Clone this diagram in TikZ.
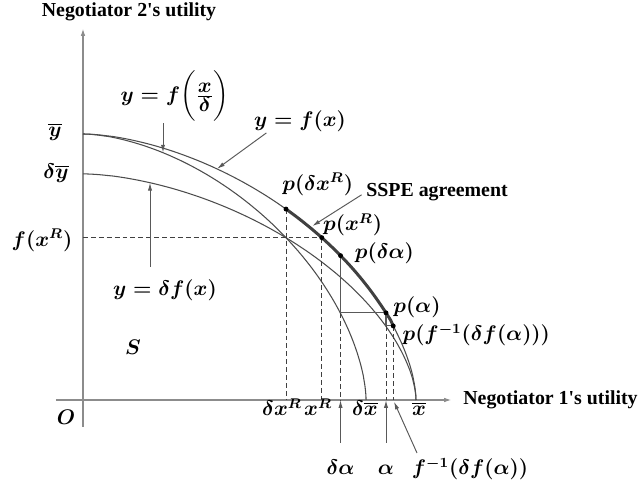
\documentclass[tikz,border=0pt]{standalone}
\usepackage{amsmath}
\usepackage{fontspec}
\newfontfamily\axisfont{Liberation Serif}
\usetikzlibrary{positioning,arrows.meta,calc}

\tikzset{
  axis/.style={draw=black!45, line width=1.1pt, -{Latex[length=4.5pt,width=2.6pt]}},
  curve/.style={draw=black!70, line width=0.6pt},
  agree/.style={draw=black!75, line width=1.7pt},
  guide/.style={draw=black!75, line width=0.5pt, dash pattern=on 2.8pt off 1.7pt},
  stair/.style={draw=black!65, line width=0.6pt},
  note/.style={draw=black!65, line width=0.55pt, -{Latex[length=4.5pt,width=2.4pt]}},
  pdot/.style={circle, fill=black, inner sep=0pt, minimum size=2.8pt},
  lab/.style={inner sep=0pt, font=\fontsize{12}{14}\selectfont\boldmath},
  axtitle/.style={inner sep=0pt, font=\fontsize{11.3}{13}\selectfont\axisfont\bfseries},
}

\begin{document}
\begin{tikzpicture}[x=0.02cm, y=0.02cm,
    declare function={fo(\x)=266*(1-(\x/333)^1.7)^(1/1.7);
                      fi(\y)=333*(1-(\y/266)^1.7)^(1/1.7);}]
\useasboundingbox (-83,-89) rectangle (559,400);

    % axes
    \coordinate (xs) at (-27,0);
    \coordinate (xe) at (369,0);
    \coordinate (ys) at (0,-27);
    \coordinate (ye) at (0,372);
    \draw[axis] (xs) -- (xe);
    \draw[axis] (ys) -- (ye);

    \coordinate (ybar) at (0,266);
    \coordinate (dybar) at (0,226.1);
    \coordinate (xbar) at (333,0);
    \coordinate (dxbar) at (283.05,0);

    % frontiers
    \draw[curve] (xbar) -- plot[domain=0.3:89.7, samples=90, variable=\t]
        ({333*cos(\t)^(2/1.7)}, {266*sin(\t)^(2/1.7)}) -- (ybar);
    \draw[curve] (dxbar) -- plot[domain=0.3:89.7, samples=90, variable=\t]
        ({283.05*cos(\t)^(2/1.7)}, {266*sin(\t)^(2/1.7)}) -- (ybar);
    \draw[curve] (xbar) -- plot[domain=0.3:89.7, samples=90, variable=\t]
        ({333*cos(\t)^(2/1.7)}, {226.1*sin(\t)^(2/1.7)}) -- (dybar);

    % points on the frontier
    \coordinate (pdxR) at (202.98,{fo(202.98)});
    \coordinate (pxR) at (238.8,{fo(238.8)});
    \coordinate (yfxR) at (0,{fo(238.8)});
    \coordinate (pdalpha) at (257.55,{fo(257.55)});
    \coordinate (palpha) at (303,{fo(303)});
    \coordinate (cornA) at (257.55,{fo(303)});
    \coordinate (cornB) at (303,{0.85*fo(303)});
    \coordinate (pfinv) at ({fi(0.85*fo(303))},{0.85*fo(303)});

    \coordinate (xdxR) at (202.98,0);
    \coordinate (xxR) at (238.8,0);
    \coordinate (xdalpha) at (257.55,0);
    \coordinate (xalpha) at (303,0);
    \coordinate (xfinv) at ({fi(0.85*fo(303))},0);

    \draw[agree] plot[domain=202.98:310.4, samples=40] (\x,{fo(\x)});

    \draw[guide] (yfxR) -- (pxR);
    \draw[guide] (pdxR) -- (xdxR);
    \draw[guide] (pxR) -- (xxR);
    \draw[guide] (cornA) -- (xdalpha);
    \draw[guide] (cornB) -- (xalpha);
    \draw[guide] (pfinv) -- (xfinv);

    \draw[stair] (pdalpha) -- (cornA) -- (palpha) -- (cornB) -- (pfinv);

    \foreach \p in {pdxR,pxR,pdalpha,palpha,pfinv}
        \node[pdot] at (\p) {};

    % axis titles
    \node[axtitle] (t2) at (46,388) {Negotiator 2\textquotesingle s utility};
    \node[axtitle, anchor=west] (t1) at (380,0) {Negotiator 1\textquotesingle s utility};

    % labels on the axes
    \node[lab] (lybar) at (-28,268) {$\overline{y}$};
    \node[lab] (ldybar) at (-27,227) {$\delta\overline{y}$};
    \node[lab] (lfxR) at (-41,160) {$f(x^R)$};
    \node[lab, anchor=base] (lO) at (-17,-25) {$O$};
    \node[lab, anchor=base] (ldxR) at (199,-16) {$\delta x^R$};
    \node[lab, anchor=base] (lxR) at (235,-16) {$x^R$};
    \node[lab, anchor=base] (ldxbar) at (282,-16) {$\delta\overline{x}$};
    \node[lab, anchor=base] (lxbar) at (336,-16) {$\overline{x}$};
    \node[lab] (lS) at (50,53) {$S$};

    \node[lab, anchor=base] (ldalpha) at (257.55,-75) {$\delta\alpha$};
    \node[lab, anchor=base] (lalpha) at (303,-75) {$\alpha$};
    \node[lab, anchor=base] (lfinv) at (387,-75) {$f^{-1}(\delta f(\alpha))$};
    \coordinate (adalpha) at (257.55,-43);
    \coordinate (aalpha) at (303,-43);
    \coordinate (afinv) at (334,-53);
    \draw[note] (adalpha) -- (xdalpha);
    \draw[note] (aalpha) -- (xalpha);
    \draw[note, shorten >=1pt] (afinv) -- (xfinv);

    % labels of the points
    \node[lab, anchor=west] (lpdxR) at ([shift={(-4,25)}]pdxR) {$p(\delta x^R)$};
    \node[lab, anchor=west] (lpxR) at ([shift={(1,13)}]pxR) {$p(x^R)$};
    \node[lab, anchor=west] (lpdalpha) at ([shift={(14,2)}]pdalpha) {$p(\delta\alpha)$};
    \node[lab, anchor=west] (lpalpha) at ([shift={(7,6)}]palpha) {$p(\alpha)$};
    \node[lab, anchor=west] (lpfinv) at ([shift={(9,-9)}]pfinv) {$p(f^{-1}(\delta f(\alpha)))$};

    % curve labels
    \coordinate (tfxd) at (80,{fo(80/0.85)});
    \coordinate (tfx) at (134,{fo(134)});
    \coordinate (tfd) at (67,{0.85*fo(67)});
    \coordinate (tsspe) at (227,{fo(227)});
    \node[lab] (lfxd) at (92,304) {$y=f\biggl(\frac{\textstyle x}{\textstyle\delta}\biggr)$};
    \node[lab] (lfx) at (217,279) {$y=f(x)$};
    \node[lab] (lfd) at (82,110) {$y=\delta f(x)$};
    \node[axtitle, anchor=west] (lsspe) at (283,208) {SSPE agreement};
    \draw[note, shorten <=1pt] (lfxd.south -| tfxd) -- (tfxd);
    \draw[note, shorten <=1pt] ([xshift=8pt]lfx.south west) -- (tfx);
    \draw[note, shorten <=7pt] (lfd.north -| tfd) -- (tfd);
    \draw[note, shorten <=3pt, shorten >=1.5pt] (lsspe.west) -- (tsspe);

\end{tikzpicture}
\end{document}
